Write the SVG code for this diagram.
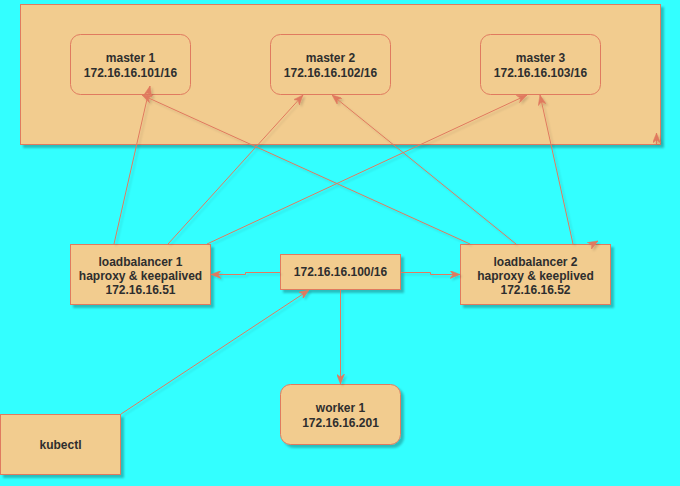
<svg xmlns="http://www.w3.org/2000/svg" width="680" height="486" viewBox="0 0 680 486">
<defs>
<filter id="sh" x="-10%" y="-10%" width="130%" height="140%">
<feDropShadow dx="3" dy="3" stdDeviation="1.2" flood-color="#000" flood-opacity="0.25"/>
</filter>
<filter id="shl" x="-10%" y="-10%" width="130%" height="140%">
<feDropShadow dx="2" dy="2" stdDeviation="1" flood-color="#000" flood-opacity="0.15"/>
</filter>
<marker id="ar" markerUnits="userSpaceOnUse" viewBox="0 0 10 8" refX="10" refY="4" markerWidth="10" markerHeight="8" orient="auto">
<path d="M0,0 L10,4 L0,8 L3,4 Z" fill="#E07A5F" stroke="#E07A5F" stroke-width="0.5"/>
</marker>
</defs>
<style>
.box{fill:#F2CC8F;stroke:#E07A5F;stroke-width:1;filter:url(#sh)}
.t{font-family:"Liberation Sans",Arial,sans-serif;font-size:12px;font-weight:bold;fill:#2E2E2E;text-anchor:middle}
.e{fill:none;stroke:#E07A5F;stroke-width:1;marker-end:url(#ar)}
</style>
<rect x="0" y="0" width="680" height="486" fill="#33FFFF"/>
<g id="cluster">
<rect class="box" x="20.5" y="4.5" width="640" height="140"/>
</g>
<g id="master1">
<rect class="box" x="70.5" y="34.5" width="120" height="60" rx="10" style="filter:none"/>
<text class="t" x="130.5" y="62">master 1</text>
<text class="t" x="130.5" y="77">172.16.16.101/16</text>
</g>
<g id="master2">
<rect class="box" x="270.5" y="34.5" width="120" height="60" rx="10" style="filter:none"/>
<text class="t" x="330.5" y="62">master 2</text>
<text class="t" x="330.5" y="77">172.16.16.102/16</text>
</g>
<g id="master3">
<rect class="box" x="480.5" y="34.5" width="120" height="60" rx="10" style="filter:none"/>
<text class="t" x="540.5" y="62">master 3</text>
<text class="t" x="540.5" y="77">172.16.16.103/16</text>
</g>
<g id="lb1">
<rect class="box" x="70.5" y="244.5" width="140" height="60"/>
<text class="t" x="140.5" y="265.5">loadbalancer 1</text>
<text class="t" x="140.5" y="279.5">haproxy &amp; keepalived</text>
<text class="t" x="140.5" y="293.5">172.16.16.51</text>
</g>
<g id="vip">
<rect class="box" x="280.5" y="254.5" width="120" height="35"/>
<text class="t" x="340.5" y="276">172.16.16.100/16</text>
</g>
<g id="lb2">
<rect class="box" x="460.5" y="244.5" width="150" height="60"/>
<text class="t" x="535.5" y="265.5">loadbalancer 2</text>
<text class="t" x="535.5" y="279.5">haproxy &amp; keeplived</text>
<text class="t" x="535.5" y="293.5">172.16.16.52</text>
</g>
<g id="worker1">
<rect class="box" x="280.5" y="384.5" width="120" height="60" rx="10"/>
<text class="t" x="340.5" y="412">worker 1</text>
<text class="t" x="340.5" y="427">172.16.16.201</text>
</g>
<g id="kubectl">
<rect class="box" x="0.5" y="414.5" width="120" height="60"/>
<text class="t" x="60.5" y="448.5">kubectl</text>
</g>
<g id="connectors" style="filter:url(#shl)">
<path class="e" d="M114,244 L150,86"/>
<path class="e" d="M168,244 L303,95"/>
<path class="e" d="M207,244 L527,95"/>
<path class="e" d="M470,244 L142,95"/>
<path class="e" d="M516,244 L332,95"/>
<path class="e" d="M573,244 L540,95"/>
<path class="e" d="M591,245 L598,241"/>
<path class="e" d="M656.5,144 L656.5,133"/>
<path class="e" d="M280,272.5 L245.5,272.5 L245.5,274.5 L211,274.5"/>
<path class="e" d="M401,272.5 L430.5,272.5 L430.5,274.5 L460,274.5"/>
<path class="e" d="M340.5,290 L340.5,384"/>
<path class="e" d="M121,414 L309,290"/>
</g>
</svg>
